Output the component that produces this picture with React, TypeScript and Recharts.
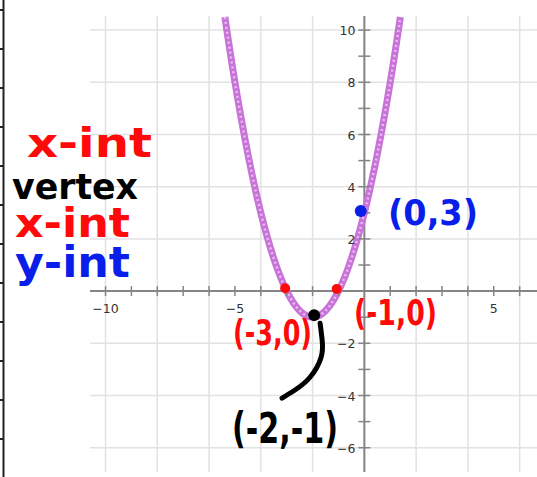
import React from "react";
import { ComposedChart, Line, Scatter, XAxis, YAxis, ReferenceLine } from "recharts";

// grid every 2 units, ticks every unit
const gridX = [-10, -8, -6, -4, -2, 0, 2, 4, 6];
const gridY = [-6, -4, -2, 0, 2, 4, 6, 8, 10];
const xTickValues = [-10, -9, -8, -7, -6, -5, -4, -3, -2, -1, 1, 2, 3, 4, 5, 6];
const yTickValues = [-6, -5, -4, -3, -2, -1, 1, 2, 3, 4, 5, 6, 7, 8, 9, 10];
const xLabelValues = [-10, -5, 5];
const xLabelText = ["−10", "−5", "5"];
const yLabelValues = [10, 8, 6, 4, 2, -2, -4, -6];
const yLabelText = ["10", "8", "6", "4", "2", "−2", "−4", "−6"];

// parabola
const curveX = [-5.39, -5, -4.5, -4, -3.5, -3, -2.5, -2, -1.5, -1, -0.5, 0, 0.5, 1, 1.39];
const curveY = [10.5, 8, 5.25, 3, 1.25, 0, -0.75, -1, -0.75, 0, 1.25, 3, 5.25, 8, 10.5];

// hand-drawn marks
const redDots = [{ x: -3.06, y: 0.11 }, { x: -1.07, y: 0.08 }];
const blackDots = [{ x: -1.94, y: -0.92 }];
const blueDots = [{ x: -0.14, y: 3.07 }];
const linkX = [-1.71, -1.63, -1.67, -2.1, -2.68, -3.18];
const linkY = [-1.23, -1.88, -2.53, -3.3, -3.79, -4.1];

const curve = curveX.map((x, i) => ({ x, y: curveY[i] }));
const link = linkX.map((x, i) => ({ x, y: linkY[i] }));
const xTicks = xTickValues.map((x) => ({ x, y: 0 }));
const yTicks = yTickValues.map((y) => ({ x: 0, y }));
const xLabels = xLabelValues.map((x, i) => ({ x, y: 0, label: xLabelText[i] }));
const yLabels = yLabelValues.map((y, i) => ({ x: 0, y, label: yLabelText[i] }));

const axisColor = "#858585";
const labelFont = { fontFamily: "DejaVu Sans", fontSize: 12.5, fill: "#333" };
const hand = { fontFamily: "DejaVu Sans", fontWeight: 700 };

const XTick = (p: any) => (
  <line x1={p.cx} x2={p.cx} y1={p.cy - 5} y2={p.cy + 5} stroke={axisColor} strokeWidth={1.5} />
);
const YTick = (p: any) => (
  <line x1={p.cx - 6} x2={p.cx + 6} y1={p.cy} y2={p.cy} stroke={axisColor} strokeWidth={1.5} />
);
const XLabel = (p: any) => (
  <text x={p.cx} y={p.cy + 22} textAnchor="middle" {...labelFont}>{p.payload.label}</text>
);
const YLabel = (p: any) => (
  <text x={p.cx - 9} y={p.cy + 5} textAnchor="end" {...labelFont}>{p.payload.label}</text>
);
const dot = (color: string, r: number) => (p: any) => <circle cx={p.cx} cy={p.cy} r={r} fill={color} />;

// ruler-like border on the far left
const rulerTicks = Array.from({ length: 12 }, (_, i) => 10 + i * 39);

export default function App() {
  return (
    <div style={{ position: "fixed", left: 0, top: 0, width: 537, height: 477, background: "#fff" }}>
      <ComposedChart width={537} height={477} margin={{ top: 16, right: 0, bottom: 5, left: 90 }}>
        <XAxis type="number" dataKey="x" domain={[-10.6, 6.67]} allowDataOverflow hide />
        <YAxis type="number" dataKey="y" domain={[-6.93, 10.54]} allowDataOverflow hide />
        {gridX.map((v) => (
          <ReferenceLine key={"gx" + v} x={v} stroke="#e2e2e2" strokeWidth={1.5} />
        ))}
        {gridY.map((v) => (
          <ReferenceLine key={"gy" + v} y={v} stroke="#e2e2e2" strokeWidth={1.5} />
        ))}
        <ReferenceLine x={0} stroke={axisColor} strokeWidth={2} />
        <ReferenceLine y={0} stroke={axisColor} strokeWidth={2} />
        <Scatter data={xTicks} shape={XTick} isAnimationActive={false} />
        <Scatter data={yTicks} shape={YTick} isAnimationActive={false} />
        <Scatter data={xLabels} shape={XLabel} isAnimationActive={false} />
        <Scatter data={yLabels} shape={YLabel} isAnimationActive={false} />
        <Line data={curve} dataKey="y" type="natural" stroke="#c873d8" strokeWidth={7}
          dot={false} activeDot={false} isAnimationActive={false} />
        <Line data={curve} dataKey="y" type="natural" stroke="#e8bdf0" strokeWidth={2.5}
          strokeDasharray="2 3" dot={false} activeDot={false} isAnimationActive={false} />
        <Line data={link} dataKey="y" type="natural" stroke="#000" strokeWidth={5} strokeLinecap="round"
          dot={false} activeDot={false} isAnimationActive={false} />
        <Scatter data={redDots} shape={dot("#ff0a0a", 5)} isAnimationActive={false} />
        <Scatter data={blackDots} shape={dot("#000", 6)} isAnimationActive={false} />
        <Scatter data={blueDots} shape={dot("#0a1eea", 6)} isAnimationActive={false} />
      </ComposedChart>
      <svg width={537} height={477} style={{ position: "absolute", left: 0, top: 0, pointerEvents: "none" }}>
        <line x1={3.5} x2={3.5} y1={0} y2={477} stroke="#222" strokeWidth={2} />
        {rulerTicks.map((y) => (
          <line key={y} x1={0} x2={4} y1={y} y2={y} stroke="#222" strokeWidth={2} />
        ))}
        <text x={27} y={157} fontSize={40} fill="#ff0a0a" textLength={125} lengthAdjust="spacingAndGlyphs" {...hand}>x-int</text>
        <text x={12} y={199} fontSize={36} fill="#000" textLength={126} lengthAdjust="spacingAndGlyphs" {...hand}>vertex</text>
        <text x={15} y={237} fontSize={40} fill="#ff0a0a" textLength={115} lengthAdjust="spacingAndGlyphs" {...hand}>x-int</text>
        <text x={15} y={277} fontSize={42} fill="#0a1eea" textLength={115} lengthAdjust="spacingAndGlyphs" {...hand}>y-int</text>
        <text x={388} y={225} fontSize={36} fill="#0a1eea" textLength={90} lengthAdjust="spacingAndGlyphs" {...hand}>(0,3)</text>
        <text x={354} y={325} fontSize={36} fill="#ff0a0a" textLength={83} lengthAdjust="spacingAndGlyphs" {...hand}>(-1,0)</text>
        <text x={233} y={345} fontSize={36} fill="#ff0a0a" textLength={79} lengthAdjust="spacingAndGlyphs" {...hand}>(-3,0)</text>
        <text x={232} y={443} fontSize={42} fill="#000" textLength={106} lengthAdjust="spacingAndGlyphs" {...hand}>(-2,-1)</text>
      </svg>
    </div>
  );
}
